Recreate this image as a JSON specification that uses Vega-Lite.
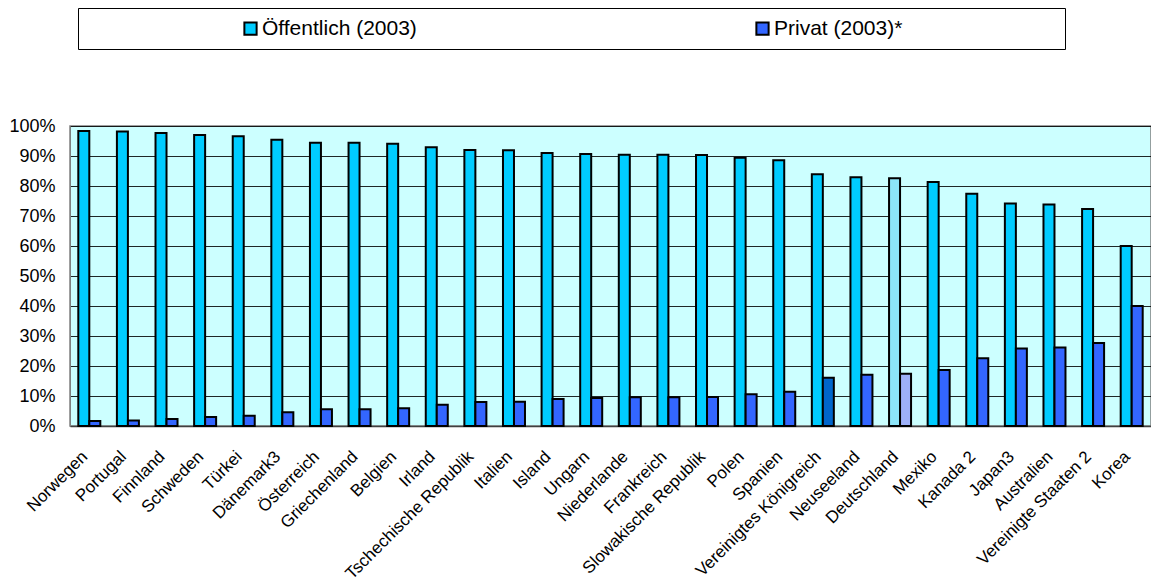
{
  "$schema": "https://vega.github.io/schema/vega-lite/v6.json",
  "width": 1081,
  "height": 300,
  "autosize": "none",
  "padding": {"left": 70, "top": 126, "right": 0, "bottom": 159},
  "background": "white",
  "config": {
    "font": "Liberation Sans",
    "view": {"fill": "#CCFFFF", "stroke": "#808080", "strokeWidth": 1.5}
  },
  "data": {
    "values": [
      {"land": "Norwegen", "art": "Öffentlich (2003)", "wert": 0.983},
      {"land": "Norwegen", "art": "Privat (2003)*", "wert": 0.017},
      {"land": "Portugal", "art": "Öffentlich (2003)", "wert": 0.982},
      {"land": "Portugal", "art": "Privat (2003)*", "wert": 0.018},
      {"land": "Finnland", "art": "Öffentlich (2003)", "wert": 0.977},
      {"land": "Finnland", "art": "Privat (2003)*", "wert": 0.023},
      {"land": "Schweden", "art": "Öffentlich (2003)", "wert": 0.97},
      {"land": "Schweden", "art": "Privat (2003)*", "wert": 0.03},
      {"land": "Türkei", "art": "Öffentlich (2003)", "wert": 0.966},
      {"land": "Türkei", "art": "Privat (2003)*", "wert": 0.034},
      {"land": "Dänemark3", "art": "Öffentlich (2003)", "wert": 0.954},
      {"land": "Dänemark3", "art": "Privat (2003)*", "wert": 0.046},
      {"land": "Österreich", "art": "Öffentlich (2003)", "wert": 0.944},
      {"land": "Österreich", "art": "Privat (2003)*", "wert": 0.056},
      {"land": "Griechenland", "art": "Öffentlich (2003)", "wert": 0.944},
      {"land": "Griechenland", "art": "Privat (2003)*", "wert": 0.056},
      {"land": "Belgien", "art": "Öffentlich (2003)", "wert": 0.941},
      {"land": "Belgien", "art": "Privat (2003)*", "wert": 0.059},
      {"land": "Irland", "art": "Öffentlich (2003)", "wert": 0.929},
      {"land": "Irland", "art": "Privat (2003)*", "wert": 0.071},
      {"land": "Tschechische Republik", "art": "Öffentlich (2003)", "wert": 0.92},
      {"land": "Tschechische Republik", "art": "Privat (2003)*", "wert": 0.08},
      {"land": "Italien", "art": "Öffentlich (2003)", "wert": 0.919},
      {"land": "Italien", "art": "Privat (2003)*", "wert": 0.081},
      {"land": "Island", "art": "Öffentlich (2003)", "wert": 0.91},
      {"land": "Island", "art": "Privat (2003)*", "wert": 0.09},
      {"land": "Ungarn", "art": "Öffentlich (2003)", "wert": 0.907},
      {"land": "Ungarn", "art": "Privat (2003)*", "wert": 0.093},
      {"land": "Niederlande", "art": "Öffentlich (2003)", "wert": 0.904},
      {"land": "Niederlande", "art": "Privat (2003)*", "wert": 0.096},
      {"land": "Frankreich", "art": "Öffentlich (2003)", "wert": 0.904},
      {"land": "Frankreich", "art": "Privat (2003)*", "wert": 0.096},
      {"land": "Slowakische Republik", "art": "Öffentlich (2003)", "wert": 0.903},
      {"land": "Slowakische Republik", "art": "Privat (2003)*", "wert": 0.097},
      {"land": "Polen", "art": "Öffentlich (2003)", "wert": 0.894},
      {"land": "Polen", "art": "Privat (2003)*", "wert": 0.106},
      {"land": "Spanien", "art": "Öffentlich (2003)", "wert": 0.886},
      {"land": "Spanien", "art": "Privat (2003)*", "wert": 0.114},
      {"land": "Vereinigtes Königreich", "art": "Öffentlich (2003)", "wert": 0.839},
      {"land": "Vereinigtes Königreich", "art": "Privat (2003)*", "wert": 0.161},
      {"land": "Neuseeland", "art": "Öffentlich (2003)", "wert": 0.829},
      {"land": "Neuseeland", "art": "Privat (2003)*", "wert": 0.171},
      {"land": "Deutschland", "art": "Öffentlich (2003)", "wert": 0.826},
      {"land": "Deutschland", "art": "Privat (2003)*", "wert": 0.174},
      {"land": "Mexiko", "art": "Öffentlich (2003)", "wert": 0.813},
      {"land": "Mexiko", "art": "Privat (2003)*", "wert": 0.187},
      {"land": "Kanada 2", "art": "Öffentlich (2003)", "wert": 0.774},
      {"land": "Kanada 2", "art": "Privat (2003)*", "wert": 0.226},
      {"land": "Japan3", "art": "Öffentlich (2003)", "wert": 0.742},
      {"land": "Japan3", "art": "Privat (2003)*", "wert": 0.258},
      {"land": "Australien", "art": "Öffentlich (2003)", "wert": 0.738},
      {"land": "Australien", "art": "Privat (2003)*", "wert": 0.262},
      {"land": "Vereinigte Staaten 2", "art": "Öffentlich (2003)", "wert": 0.723},
      {"land": "Vereinigte Staaten 2", "art": "Privat (2003)*", "wert": 0.277},
      {"land": "Korea", "art": "Öffentlich (2003)", "wert": 0.6},
      {"land": "Korea", "art": "Privat (2003)*", "wert": 0.4}
    ]
  },
  "mark": {"type": "bar", "stroke": "black", "strokeWidth": 2},
  "encoding": {
    "x": {
      "field": "land",
      "type": "nominal",
      "sort": null,
      "scale": {"paddingInner": 0.43, "paddingOuter": 0.215},
      "axis": {
        "title": null,
        "labelAngle": -45,
        "labelFont": "Liberation Sans",
        "labelFontSize": 17,
        "labelColor": "black",
        "labelPadding": 22,
        "labelOffset": -10,
        "labelLimit": 300,
        "ticks": false,
        "domainColor": "#404040",
        "domainWidth": 1.5
      }
    },
    "xOffset": {
      "field": "art",
      "type": "nominal",
      "sort": ["Öffentlich (2003)", "Privat (2003)*"],
      "scale": {"paddingInner": 0, "paddingOuter": 0}
    },
    "y": {
      "field": "wert",
      "type": "quantitative",
      "scale": {"domain": [0, 1], "nice": false},
      "axis": {
        "title": null,
        "format": ".0%",
        "values": [0, 0.1, 0.2, 0.3, 0.4, 0.5, 0.6, 0.7, 0.8, 0.9, 1],
        "labelFont": "Liberation Sans",
        "labelFontSize": 18,
        "labelColor": "black",
        "labelPadding": 15,
        "ticks": false,
        "domainColor": "#808080",
        "gridColor": "black",
        "gridWidth": 1,
        "gridOpacity": 0.85
      }
    },
    "color": {
      "condition": [
        {"test": "datum.land === 'Vereinigtes Königreich' && datum.art === 'Privat (2003)*'", "value": "#0066CC"},
        {"test": "datum.land === 'Deutschland' && datum.art === 'Öffentlich (2003)'", "value": "#8CE4F8"},
        {"test": "datum.land === 'Deutschland' && datum.art === 'Privat (2003)*'", "value": "#9DB0F8"}
      ],
      "field": "art",
      "type": "nominal",
      "scale": {"domain": ["Öffentlich (2003)", "Privat (2003)*"], "range": ["#00CCFF", "#3366FF"]},
      "legend": {
        "title": null,
        "orient": "none",
        "legendX": 8,
        "legendY": -118,
        "direction": "horizontal",
        "columns": 2,
        "symbolType": "square",
        "symbolSize": 150,
        "symbolStrokeColor": "black",
        "symbolStrokeWidth": 2,
        "symbolOpacity": 1,
        "symbolOffset": 152,
        "labelOffset": 1,
        "labelFont": "Liberation Sans",
        "labelFontSize": 21,
        "labelColor": "black",
        "labelLimit": 600,
        "labelExpr": "datum.label === 'Privat (2003)*' ? datum.label + '\u00a0\u00a0\u00a0\u00a0\u00a0\u00a0\u00a0\u00a0\u00a0\u00a0\u00a0\u00a0\u00a0\u00a0\u00a0\u00a0\u00a0\u00a0\u00a0\u00a0\u00a0\u00a0\u00a0\u00a0\u00a0\u00a0\u200b' : datum.label",
        "columnPadding": 183,
        "padding": 10,
        "strokeColor": "black",
        "fillColor": "white"
      }
    }
  }
}
